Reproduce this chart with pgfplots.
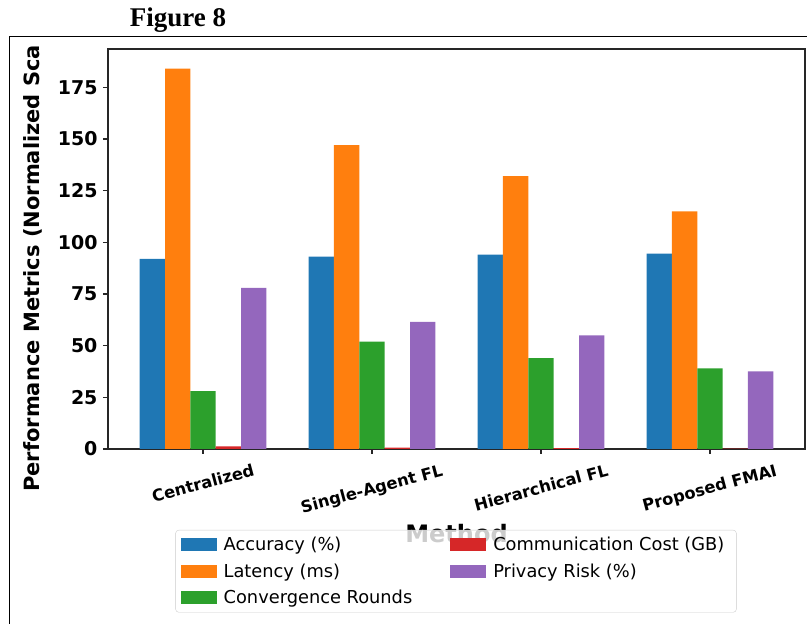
\documentclass[border=0pt]{standalone}
\usepackage{fontspec}
\setmainfont{DejaVu Sans}
\newfontfamily\titlefont{Liberation Serif}
\usepackage{pgfplots}
\usepackage{pgfplotstable}
\pgfplotsset{compat=1.18}
\definecolor{c0}{HTML}{1F77B4}
\definecolor{c1}{HTML}{FF7F0E}
\definecolor{c2}{HTML}{2CA02C}
\definecolor{c3}{HTML}{D62728}
\definecolor{c4}{HTML}{9467BD}
\pgfplotstableread{
x acc lat conv comm priv
0 92   184 28 1.3 78
1 93   147 52 0.7 61.5
2 94   132 44 0.4 55
3 94.5 115 39 0.2 37.5
}\datatable
\begin{document}
\begin{tikzpicture}[x=1pt,y=1pt]
\useasboundingbox (0,0) rectangle (807,624);
\draw[line width=1.5pt] (9.5,0) -- (9.5,587.5) -- (807,587.5);
\node[font=\titlefont\bfseries\fontsize{27}{31}\selectfont] at (178,604) {Figure 8};
\begin{scope}
\clip (12,0) rectangle (807,586);
\node[rotate=90, anchor=west, inner sep=0pt, font=\bfseries\fontsize{21}{25}\selectfont] at (33,132) {Performance Metrics (Normalized Sca};
\end{scope}
\begin{axis}[
  at={(108pt,175pt)}, anchor=south west,
  scale only axis, width=697pt, height=400pt,
  ybar=0pt, bar width=0.15,
  xmin=-0.5625, xmax=3.5625, ymin=0, ymax=193.5,
  xtick={0,1,2,3},
  xticklabels={\rotatebox{15}{Centralized},\rotatebox{15}{Single-Agent FL},\rotatebox{15}{Hierarchical FL},\rotatebox{15}{Proposed FMAI}},
  ytick={0,25,50,75,100,125,150,175},
  xtick pos=bottom, ytick pos=left,
  tick align=outside, major tick length=5pt,
  axis line style={line width=1.2pt, black!85},
  tick style={line width=1.2pt, black!85},
  yticklabel style={font=\bfseries\fontsize{19}{22}\selectfont, xshift=-2pt},
  xticklabel style={font=\bfseries\fontsize{16.3}{19}\selectfont, anchor=north, yshift=-6pt},
  /pgf/number format/assume math mode=true,
  xlabel={Method},
  xlabel style={font=\bfseries\fontsize{24}{28}\selectfont, at={(axis description cs:0.5,-0.2125)}, anchor=center},
  legend columns=3, transpose legend,
  legend style={at={(axis description cs:0.4993,-0.2025)}, anchor=north,
    draw=black!20, rounded corners=3pt, fill=white, fill opacity=0.8, text opacity=1,
    font=\fontsize{17.8}{21}\selectfont, inner xsep=5pt, inner ysep=6pt,
    /tikz/row sep=9.5pt,
    /tikz/every even column/.append style={column sep=31pt}},
  legend cell align=left,
  legend image code/.code={\fill[#1, fill opacity=1, sharp corners] (-3pt,-6.5pt) rectangle (33pt,6.5pt);},
  legend style={nodes={inner xsep=7pt, inner ysep=1pt}},
  every axis plot/.append style={draw=none},
]
\addplot[fill=c0] table[x=x,y=acc]{\datatable};
\addplot[fill=c1] table[x=x,y=lat]{\datatable};
\addplot[fill=c2] table[x=x,y=conv]{\datatable};
\addplot[fill=c3] table[x=x,y=comm]{\datatable};
\addplot[fill=c4] table[x=x,y=priv]{\datatable};
\legend{Accuracy (\%),Latency (ms),Convergence Rounds,Communication Cost (GB),Privacy Risk (\%)}
\end{axis}
\end{tikzpicture}
\end{document}
